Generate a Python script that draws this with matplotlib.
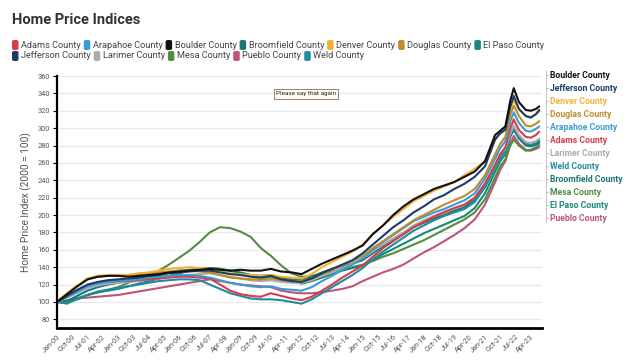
import matplotlib
matplotlib.use("Agg")
import matplotlib.pyplot as plt
import matplotlib.dates as mdates
from matplotlib.patches import FancyBboxPatch
import pandas as pd

plt.rcParams['font.family'] = ['Roboto', 'DejaVu Sans']

# ---------------- data ----------------
dates = (list(pd.date_range("2000-01-01", "2021-07-01", freq="6MS")) +
         list(pd.to_datetime(["2021-10-01", "2022-01-01", "2022-04-01", "2022-06-01",
                              "2022-09-01", "2023-01-01", "2023-04-01", "2023-07-01",
                              "2023-09-01"])))

boulder = [100, 109, 118, 126, 129, 130, 130, 129, 130, 131, 132, 134, 135, 136, 137, 138,
           137, 136, 137, 136, 136, 138, 135, 134, 132, 138, 144, 149, 154, 159, 165, 178,
           188, 200, 210, 218, 224, 230, 234, 238, 244, 250, 262, 292,
           297, 302, 332, 346, 330, 321, 320, 322, 325]
jefferson = [100, 107, 114, 120, 123, 125, 126, 127, 128, 130, 131, 133, 134, 135, 136, 136,
             134, 132, 131, 129, 128, 130, 126, 124, 123, 127, 133, 138, 143, 148, 156, 166,
             176, 186, 194, 203, 210, 218, 223, 230, 236, 244, 256, 287,
             294, 298, 325, 337, 322, 314, 312, 316, 321]
denver = [100, 110, 119, 127, 130, 131, 131, 131, 133, 134, 136, 138, 139, 140, 139, 138,
          136, 133, 132, 131, 130, 131, 129, 128, 127, 132, 140, 146, 152, 158, 166, 178,
          188, 198, 207, 216, 222, 228, 233, 238, 246, 253, 262, 286,
          295, 300, 322, 332, 322, 314, 313, 316, 319]
douglas = [100, 110, 119, 126, 129, 130, 131, 131, 132, 133, 134, 135, 136, 136, 135, 134,
           131, 128, 127, 126, 126, 127, 125, 124, 124, 127, 132, 137, 142, 147, 153, 162,
           170, 178, 186, 194, 200, 206, 212, 217, 222, 230, 246, 270,
           282, 290, 315, 326, 314, 303, 302, 305, 308]
arapahoe = [100, 106, 112, 118, 121, 123, 124, 125, 126, 128, 129, 130, 131, 131, 130, 128,
            125, 122, 120, 118, 117, 118, 115, 114, 113, 117, 124, 130, 137, 143, 150, 160,
            169, 177, 185, 193, 198, 203, 207, 212, 217, 225, 242, 265,
            277, 285, 308, 318, 306, 297, 296, 299, 302]
adams = [100, 106, 113, 119, 122, 123, 124, 124, 125, 126, 127, 128, 129, 129, 128, 127,
         120, 113, 109, 107, 106, 110, 107, 104, 102, 106, 113, 120, 128, 135, 142, 152,
         162, 170, 178, 186, 192, 198, 203, 208, 212, 220, 236, 258,
         270, 278, 300, 310, 298, 290, 289, 292, 296]
larimer = [100, 105, 110, 116, 119, 121, 122, 123, 124, 126, 127, 129, 130, 131, 132, 133,
           131, 129, 127, 125, 124, 125, 123, 122, 122, 125, 130, 134, 139, 144, 150, 158,
           166, 173, 180, 188, 194, 199, 204, 208, 212, 220, 236, 258,
           270, 276, 294, 303, 292, 284, 283, 285, 288]
weld = [100, 99, 103, 108, 112, 114, 116, 118, 120, 122, 124, 125, 126, 126, 125, 120,
        115, 110, 107, 104, 103, 103, 102, 100, 98, 103, 110, 117, 124, 131, 139, 149,
        158, 166, 174, 182, 188, 194, 199, 203, 207, 215, 232, 255,
        266, 274, 292, 301, 290, 282, 281, 283, 286]
broomfield = [100, 101, 107, 113, 117, 120, 122, 124, 126, 129, 132, 134, 136, 137, 138, 139,
              138, 136, 133, 131, 130, 131, 128, 126, 125, 129, 134, 138, 141, 144, 148, 156,
              164, 171, 178, 186, 191, 196, 200, 205, 209, 218, 233, 256,
              268, 275, 292, 300, 289, 281, 280, 282, 285]
mesa = [100, 98, 104, 108, 111, 114, 117, 122, 127, 131, 136, 143, 151, 159, 169, 180,
        186, 185, 181, 175, 162, 153, 142, 133, 129, 130, 132, 135, 137, 140, 143, 147,
        152, 156, 161, 166, 171, 177, 183, 189, 195, 203, 218, 243,
        256, 264, 280, 287, 280, 274, 275, 278, 281]
el_paso = [100, 99, 104, 108, 111, 113, 115, 118, 121, 124, 127, 130, 133, 136, 138, 139,
           138, 136, 134, 131, 129, 129, 126, 124, 121, 124, 128, 132, 136, 139, 142, 148,
           155, 161, 167, 173, 179, 184, 189, 194, 199, 208, 225, 250,
           262, 270, 290, 298, 288, 280, 279, 281, 283]
pueblo = [100, 102, 104, 105, 106, 107, 108, 110, 112, 114, 116, 118, 120, 122, 124, 126,
          124, 122, 120, 119, 118, 117, 113, 111, 110, 110, 111, 113, 115, 118, 124, 129,
          134, 138, 143, 150, 157, 163, 170, 177, 185, 195, 212, 238,
          252, 262, 282, 291, 282, 275, 274, 276, 278]

legend_order = ["Adams County", "Arapahoe County", "Boulder County", "Broomfield County",
                "Denver County", "Douglas County", "El Paso County", "Jefferson County",
                "Larimer County", "Mesa County", "Pueblo County", "Weld County"]
label_order = ["Boulder County", "Jefferson County", "Denver County", "Douglas County",
               "Arapahoe County", "Adams County", "Larimer County", "Weld County",
               "Broomfield County", "Mesa County", "El Paso County", "Pueblo County"]

series = {
    "Adams County": adams, "Arapahoe County": arapahoe, "Boulder County": boulder,
    "Broomfield County": broomfield, "Denver County": denver, "Douglas County": douglas,
    "El Paso County": el_paso, "Jefferson County": jefferson, "Larimer County": larimer,
    "Mesa County": mesa, "Pueblo County": pueblo, "Weld County": weld,
}
colors = {
    "Adams County": "#d63c4c", "Arapahoe County": "#3b9bd4", "Boulder County": "#111111",
    "Broomfield County": "#1c786b", "Denver County": "#f2b22f", "Douglas County": "#b98f2c",
    "El Paso County": "#188a75", "Jefferson County": "#1d3d68", "Larimer County": "#ababab",
    "Mesa County": "#538c42", "Pueblo County": "#c0527c", "Weld County": "#1f8b9f",
}
draw_order = ["Pueblo County", "Mesa County", "El Paso County", "Broomfield County",
              "Weld County", "Larimer County", "Adams County", "Arapahoe County",
              "Douglas County", "Denver County", "Jefferson County", "Boulder County"]

W, H = 631, 362
fig = plt.figure(figsize=(W / 100, H / 100), dpi=100)
ax = fig.add_axes([57 / W, 1 - 328 / H, (542 - 57) / W, (328 - 76) / H])

for name in draw_order:
    ax.plot(dates, series[name], color=colors[name], lw=1.5, solid_capstyle="round")

ax.set_ylim(70, 360)
ax.set_xlim(pd.Timestamp("2000-01-01"), pd.Timestamp("2023-10-20"))
ax.set_yticks(range(80, 361, 20))
ax.yaxis.grid(True, color="#e9e9e9", lw=0.9)
ax.set_axisbelow(True)
xt = pd.date_range("2000-01-01", "2023-04-01", freq="9MS")
ax.set_xticks(xt)
ax.xaxis.set_major_formatter(mdates.DateFormatter("%b-%y"))
for lab in ax.get_xticklabels():
    lab.set_rotation(45)
    lab.set_ha("right")
    lab.set_rotation_mode("anchor")
ax.tick_params(axis="x", length=0, pad=4, labelsize=5.3, labelcolor="#555555")
ax.tick_params(axis="y", length=3, width=0.8, pad=2, labelsize=5.3, labelcolor="#555555")
for s in ["top", "right"]:
    ax.spines[s].set_visible(False)
ax.spines["left"].set_linewidth(1.6)
ax.spines["bottom"].set_linewidth(2.0)
ax.set_ylabel("Home Price Index (2000 = 100)", fontsize=7.3, color="#555555", labelpad=4)

# Title
fig.text(12 / W, 1 - 20 / H, "Home Price Indices", fontsize=10.5, fontweight="bold",
         color="#333333", va="center", ha="left")

# Legend (flow layout)
fig.canvas.draw()
renderer = fig.canvas.get_renderer()
rows = [legend_order[:7], legend_order[7:]]
row_y = [45, 56]
for row, yy in zip(rows, row_y):
    x = 12
    for name in row:
        fig.patches.append(FancyBboxPatch((x / W, 1 - (yy + 5) / H), 6.5 / W, 10 / H,
                                          boxstyle="round,pad=0,rounding_size=0.004",
                                          transform=fig.transFigure, facecolor=colors[name],
                                          edgecolor="none"))
        t = fig.text((x + 9) / W, 1 - yy / H, name, fontsize=6.6, color="#444444",
                     va="center", ha="left")
        bb = t.get_window_extent(renderer)
        x = x + 9 + bb.width + 3

# Right-side labels with bracket
y0, step = 75, 13.03
fig.add_artist(plt.Line2D([546 / W, 546 / W], [1 - 71 / H, 1 - 222 / H],
                          transform=fig.transFigure, color="#bbbbbb", lw=0.6))
for i, name in enumerate(label_order):
    yy = y0 + i * step
    fig.add_artist(plt.Line2D([546 / W, 548 / W], [1 - yy / H, 1 - yy / H],
                              transform=fig.transFigure, color="#bbbbbb", lw=0.6))
    fig.text(550 / W, 1 - yy / H, name, fontsize=6.2, fontweight="bold",
             color=colors[name], va="center", ha="left")

# Tooltip box
fig.text(306 / W, 1 - 94 / H, "Please say that again", fontsize=4.6, color="#222222",
         ha="center", va="center",
         bbox=dict(boxstyle="square,pad=0.35", facecolor="#fffdf2", edgecolor="#8a6a6a", lw=0.6))

fig.savefig("out.png", dpi=100)
